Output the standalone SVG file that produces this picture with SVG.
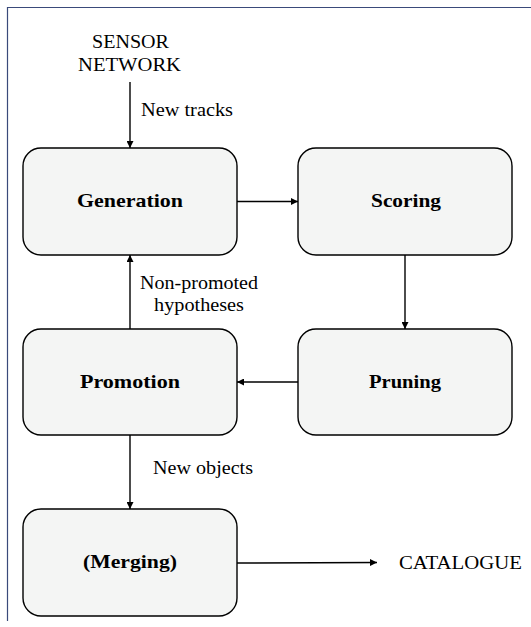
<svg xmlns="http://www.w3.org/2000/svg" width="531" height="627" viewBox="0 0 531 627">
<style>
.box{fill:#f4f5f4;stroke:#000;stroke-width:1.4}
.lbl{font-family:"Liberation Serif",serif;font-size:19px;font-weight:bold;fill:#000}
.t{font-family:"Liberation Serif",serif;font-size:18.5px;fill:#000}
.c{stroke:#000;stroke-width:1.4;fill:none;marker-end:url(#ah)}
</style>
<defs>
<marker id="ah" viewBox="0 0 10 10" refX="10" refY="5" markerWidth="7" markerHeight="7" markerUnits="userSpaceOnUse" orient="auto">
<path d="M0,0 L10,5 L0,10 z" fill="#000"/>
</marker>
</defs>
<rect width="531" height="627" fill="#fff"/>
<path d="M7.5,621 V7.5 H531" stroke="#3a4a7a" stroke-width="1.2" fill="none"/>
<g id="sensor"><text class="t" x="92" y="48" textLength="77" lengthAdjust="spacingAndGlyphs">SENSOR</text><text class="t" x="78" y="70.5" textLength="103" lengthAdjust="spacingAndGlyphs">NETWORK</text></g>
<g id="generation"><rect class="box" x="23" y="148" width="214" height="107" rx="18"/><text class="lbl" x="77" y="207" textLength="106" lengthAdjust="spacingAndGlyphs">Generation</text></g>
<g id="scoring"><rect class="box" x="298" y="148" width="214" height="107" rx="18"/><text class="lbl" x="371" y="207" textLength="70" lengthAdjust="spacingAndGlyphs">Scoring</text></g>
<g id="promotion"><rect class="box" x="23" y="329" width="214" height="106" rx="18"/><text class="lbl" x="80" y="388" textLength="100" lengthAdjust="spacingAndGlyphs">Promotion</text></g>
<g id="pruning"><rect class="box" x="298" y="329" width="214" height="106" rx="18"/><text class="lbl" x="369" y="388" textLength="72" lengthAdjust="spacingAndGlyphs">Pruning</text></g>
<g id="merging"><rect class="box" x="23" y="509" width="214" height="107" rx="18"/><text class="lbl" x="83" y="568" textLength="94" lengthAdjust="spacingAndGlyphs">(Merging)</text></g>
<g id="catalogue"><text class="t" x="399" y="569" textLength="123" lengthAdjust="spacingAndGlyphs">CATALOGUE</text></g>
<g id="connectors">
<line class="c" x1="130" y1="82" x2="130" y2="148"/>
<line class="c" x1="237" y1="201.5" x2="298" y2="201.5"/>
<line class="c" x1="405" y1="255" x2="405" y2="329"/>
<line class="c" x1="298" y1="382" x2="237" y2="382"/>
<line class="c" x1="130" y1="329" x2="130" y2="255"/>
<line class="c" x1="130" y1="435" x2="130" y2="509"/>
<line class="c" x1="237" y1="563" x2="377" y2="562.5"/>
<text class="t" x="141" y="116" textLength="92" lengthAdjust="spacingAndGlyphs">New tracks</text>
<text class="t" x="140" y="289" textLength="118" lengthAdjust="spacingAndGlyphs">Non-promoted</text>
<text class="t" x="154" y="311" textLength="90" lengthAdjust="spacingAndGlyphs">hypotheses</text>
<text class="t" x="153" y="474" textLength="100" lengthAdjust="spacingAndGlyphs">New objects</text>
</g>
</svg>
